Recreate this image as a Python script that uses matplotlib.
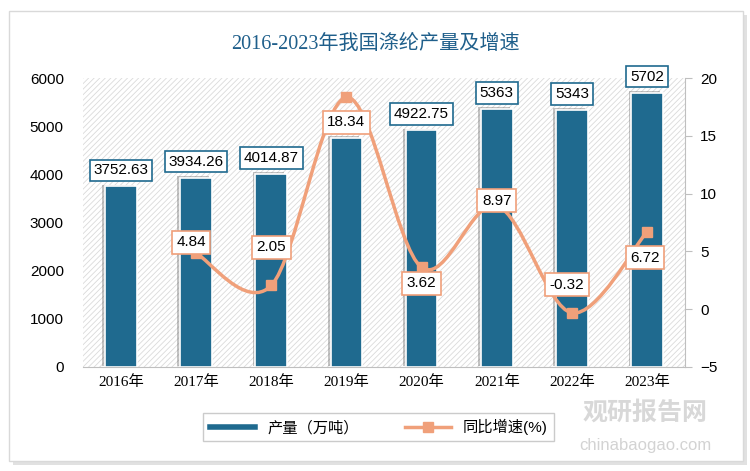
import matplotlib.pyplot as plt
import matplotlib.patheffects as pe
from matplotlib.path import Path
from matplotlib.patches import PathPatch, Rectangle
from matplotlib.lines import Line2D
import numpy as np

# data
years = ['2016年', '2017年', '2018年', '2019年', '2020年', '2021年', '2022年', '2023年']
output = [3752.63, 3934.26, 4014.87, 4764.0, 4922.75, 5363, 5343, 5702]
output_labels = ['3752.63', '3934.26', '4014.87', '', '4922.75', '5363', '5343', '5702']
growth = [np.nan, 4.84, 2.05, 18.34, 3.62, 8.97, -0.32, 6.72]
growth_labels = ['', '4.84', '2.05', '18.34', '3.62', '8.97', '-0.32', '6.72']

BAR = '#1F6A8F'
LINE = '#F0A07A'
TITLE = '#1F5F8B'
SERIF = ['Liberation Serif', 'Noto Sans CJK SC']
SANS = ['Liberation Sans', 'Noto Sans CJK SC']

plt.rcParams['font.family'] = SANS
plt.rcParams['hatch.linewidth'] = 0.6
plt.rcParams['hatch.color'] = '#DADADA'

fig = plt.figure(figsize=(7.5, 4.71), dpi=100)

# outer frame with a soft shadow
frame = Rectangle((0.012, 0.022), 0.978, 0.955, transform=fig.transFigure,
                  facecolor='white', edgecolor='#D9D9D9', linewidth=1.0, zorder=-10,
                  path_effects=[pe.SimplePatchShadow(offset=(3, -3), shadow_rgbFace='#888888', alpha=0.25), pe.Normal()])
fig.patches.append(frame)

ax = fig.add_axes([0.111, 0.221, 0.802, 0.613])
ax.set_facecolor('none')
ax.add_patch(Rectangle((0, 0), 1, 1, transform=ax.transAxes, facecolor='white',
                       hatch='//////', edgecolor='#DADADA', linewidth=0, zorder=0))

x = np.arange(len(years))
ax.bar(x, output, width=0.42, color=BAR, edgecolor='white', linewidth=1.2, zorder=2,
       path_effects=[pe.SimplePatchShadow(offset=(-2, 1), shadow_rgbFace='#555555', alpha=0.35), pe.Normal()])
ax.set_xlim(-0.5, len(years) - 0.5)
ax.set_ylim(0, 6000)
ax.set_yticks(range(0, 6001, 1000))
ax.set_xticks(x)
ax.set_xticklabels(years, family=SERIF, fontsize=11)
ax.tick_params(axis='y', labelsize=11, length=0, pad=14)
ax.tick_params(axis='x', length=0, pad=6)
for s in ['top', 'right', 'left']:
    ax.spines[s].set_visible(False)
ax.spines['bottom'].set_color('#BFBFBF')

for xi, v, lab in zip(x, output, output_labels):
    if not lab:
        continue
    ax.annotate(lab, (xi, v), xytext=(0, 16), textcoords='offset pixels', ha='center', va='center',
                fontsize=11, zorder=6,
                bbox=dict(boxstyle='square,pad=0.25', facecolor='white', edgecolor=BAR, linewidth=1.2))

ax2 = ax.twinx()
ax2.set_ylim(-5, 20)
ax2.set_yticks(range(-5, 21, 5))
ax2.tick_params(axis='y', labelsize=11, length=5, color='#BFBFBF', pad=6)
for s in ['top', 'left', 'bottom']:
    ax2.spines[s].set_visible(False)
ax2.spines['right'].set_color('#BFBFBF')

# smooth line through the points (Catmull-Rom as cubic Beziers)
pts = np.array([(xi, g) for xi, g in zip(x, growth) if not np.isnan(g)])
verts = [tuple(pts[0])]
codes = [Path.MOVETO]
for i in range(len(pts) - 1):
    p0 = pts[max(i - 1, 0)]
    p1 = pts[i]
    p2 = pts[i + 1]
    p3 = pts[min(i + 2, len(pts) - 1)]
    c1 = p1 + (p2 - p0) / 6
    c2 = p2 - (p3 - p1) / 6
    verts += [tuple(c1), tuple(c2), tuple(p2)]
    codes += [Path.CURVE4] * 3
ax2.add_patch(PathPatch(Path(verts, codes), facecolor='none', edgecolor=LINE, linewidth=2.5, zorder=3))
ax2.plot(pts[:, 0], pts[:, 1], linestyle='none', marker='s', markersize=7, color=LINE, zorder=4)

offsets = {1: (-5, 11), 2: (0, 38), 3: (0, -25), 4: (0, -16), 5: (0, 5), 6: (-5, 28), 7: (-2, -26)}
for i, lab in enumerate(growth_labels):
    if not lab:
        continue
    ax2.annotate(lab, (x[i], growth[i]), xytext=offsets[i], textcoords='offset pixels', ha='center', va='center',
                 fontsize=11, zorder=6,
                 bbox=dict(boxstyle='square,pad=0.3', facecolor='white', edgecolor=LINE, linewidth=1.2))

fig.text(0.5, 0.905, '2016-2023年我国涤纶产量及增速', ha='center', va='center', fontsize=14.5,
         color=TITLE, family=SERIF)

handles = [Line2D([0], [0], color=BAR, linewidth=4),
           Line2D([0], [0], color=LINE, linewidth=2.5, marker='s', markersize=7)]
leg = fig.legend(handles, ['产量（万吨）', '同比增速(%)'], loc='center', bbox_to_anchor=(0.505, 0.093),
                 ncol=2, frameon=True, fancybox=False, fontsize=11, handlelength=3, columnspacing=3,
                 edgecolor='#BFBFBF')
leg.get_frame().set_linewidth(1.0)

# watermark
fig.text(0.86, 0.125, '观研报告网', ha='center', va='center', fontsize=18, color='#C8C8C8',
         weight='bold', alpha=0.7)
fig.text(0.86, 0.055, 'chinabaogao.com', ha='center', va='center', fontsize=12, color='#C8C8C8', alpha=0.8)

fig.savefig('out.png', dpi=100)
